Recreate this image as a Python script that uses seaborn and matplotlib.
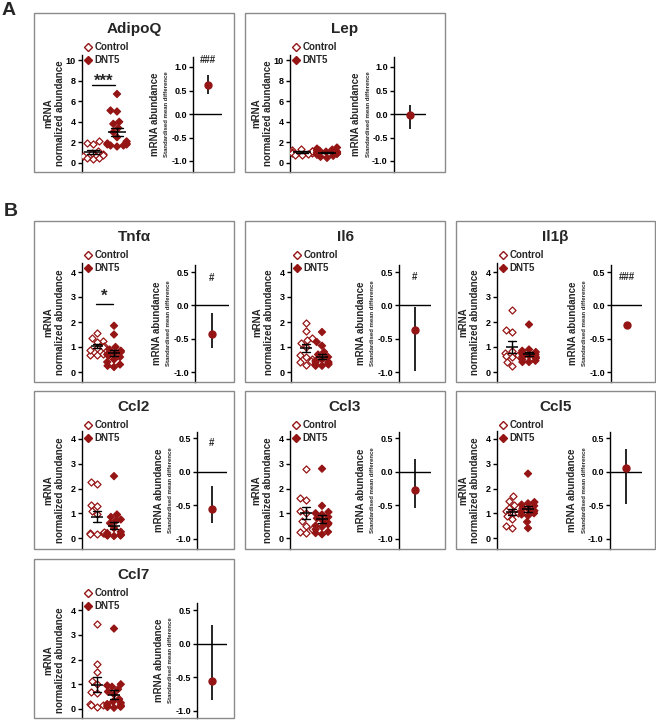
import warnings
warnings.filterwarnings('ignore')
import numpy as np
import pandas as pd
import matplotlib
matplotlib.use('Agg')
import matplotlib.pyplot as plt
from matplotlib.lines import Line2D
from matplotlib.patches import Rectangle
import seaborn as sns

# ---------------- data ----------------
groups = ['Control', 'DNT5']
genes = ['AdipoQ', 'Lep', 'Tnfα', 'Il6', 'Il1β', 'Ccl2', 'Ccl3', 'Ccl5', 'Ccl7']

adipoq_control = [2.1, 1.9, 1.8, 1.2, 1.0, 0.9, 0.7, 0.5, 0.4, 0.5, 0.8]
adipoq_dnt5 = [6.7, 5.1, 5.0, 4.0, 3.8, 3.4, 3.0, 2.5, 2.1, 1.9, 1.8, 1.8, 1.7, 1.7, 1.6, 1.9]
lep_control = [1.4, 1.3, 1.2, 1.1, 1.0, 0.9, 0.8, 1.0, 1.2, 0.8]
lep_dnt5 = [1.5, 1.4, 1.3, 1.2, 1.1, 1.0, 1.0, 0.9, 0.9, 0.8, 0.7, 0.6, 0.5, 1.1, 1.2, 1.0]
tnfa_control = [1.55, 1.35, 1.25, 1.2, 1.05, 1.0, 0.95, 0.72, 0.7, 0.68, 0.9]
tnfa_dnt5 = [1.85, 1.5, 1.0, 0.9, 0.85, 0.8, 0.75, 0.7, 0.65, 0.6, 0.5, 0.4, 0.3, 0.25, 0.2]
il6_control = [1.97, 1.64, 1.38, 1.27, 1.17, 1.0, 0.67, 0.54, 0.4, 0.3, 0.6, 0.45]
il6_dnt5 = [1.6, 1.2, 1.05, 0.8, 0.7, 0.6, 0.5, 0.45, 0.4, 0.35, 0.3, 0.3, 0.25, 0.25, 0.4]
il1b_control = [2.5, 1.7, 1.62, 0.85, 0.75, 0.65, 0.6, 0.4, 0.25, 0.7]
il1b_dnt5 = [1.9, 0.9, 0.85, 0.8, 0.75, 0.7, 0.7, 0.65, 0.6, 0.55, 0.5, 0.45, 0.4, 0.4, 0.6]
ccl2_control = [2.25, 2.2, 1.35, 1.3, 1.1, 0.95, 0.22, 0.2, 0.18, 0.2, 0.25, 0.15]
ccl2_dnt5 = [2.5, 0.95, 0.85, 0.75, 0.7, 0.6, 0.4, 0.25, 0.2, 0.15, 0.12, 0.1, 0.08, 0.1, 0.15, 0.12]
ccl3_control = [2.8, 1.6, 1.55, 1.1, 1.0, 0.7, 0.5, 0.35, 0.25, 0.22]
ccl3_dnt5 = [2.8, 1.3, 1.05, 1.0, 0.95, 0.85, 0.8, 0.7, 0.6, 0.55, 0.5, 0.45, 0.35, 0.25, 0.2, 0.15]
ccl5_control = [1.7, 1.5, 1.35, 1.2, 1.1, 1.0, 0.9, 0.75, 0.5, 0.4, 1.0]
ccl5_dnt5 = [2.6, 1.45, 1.4, 1.35, 1.3, 1.2, 1.15, 1.1, 1.05, 1.0, 0.95, 0.9, 0.65, 0.4]
ccl7_control = [3.45, 1.8, 1.5, 1.15, 1.0, 0.7, 0.65, 0.2, 0.15, 0.1, 0.15]
ccl7_dnt5 = [3.25, 1.0, 0.95, 0.9, 0.8, 0.7, 0.6, 0.4, 0.3, 0.25, 0.2, 0.15, 0.12, 0.1, 0.08, 0.05, 0.1]

control_values = [adipoq_control, lep_control, tnfa_control, il6_control, il1b_control,
                  ccl2_control, ccl3_control, ccl5_control, ccl7_control]
dnt5_values = [adipoq_dnt5, lep_dnt5, tnfa_dnt5, il6_dnt5, il1b_dnt5,
               ccl2_dnt5, ccl3_dnt5, ccl5_dnt5, ccl7_dnt5]

# standardised mean difference with interval
effect = [0.62, -0.02, -0.43, -0.37, -0.30, -0.56, -0.27, 0.05, -0.55]
ci_low = [0.43, -0.32, -0.64, -0.99, -0.33, -0.76, -0.54, -0.48, -0.84]
ci_high = [0.82, 0.19, -0.11, -0.03, -0.27, -0.22, 0.19, 0.33, 0.28]

# t-test stars: gene -> (label, bar value, text value)
stars = {'AdipoQ': ('***', 7.6, 7.9), 'Tnfα': ('*', 2.72, 3.04)}
# effect-size significance: gene -> (label, value)
hashes = {'AdipoQ': ('###', 1.15), 'Tnfα': ('#', 0.41), 'Il6': ('#', 0.42),
          'Il1β': ('###', 0.42), 'Ccl2': ('#', 0.43)}

yticks_a = [0, 2, 4, 6, 8, 10]
yticks_b = [0, 1, 2, 3, 4]
eticks_a = [-1.0, -0.5, 0.0, 0.5, 1.0]
eticks_b = [-1.0, -0.5, 0.0, 0.5]

# ---------------- layout (pixels) ----------------
W, H = 656, 720
RED = '#951515'
BOX = '#8a8a8a'

rows = {
    'A': dict(b=(13, 172), st=55, sa=(10, 60), sb=(0, 163), et=57, ea=(1.0, 67), eb=(-1.0, 161)),
    'B1': dict(b=(221, 382), st=263, sa=(4, 272), sb=(0, 372), et=265, ea=(0.5, 272), eb=(-1.0, 372)),
    'B2': dict(b=(391, 549), st=431, sa=(4, 439), sb=(0, 538), et=432, ea=(0.5, 438), eb=(-1.0, 539)),
    'B3': dict(b=(559, 718), st=602, sa=(4, 610), sb=(0, 709), et=603, ea=(0.5, 610), eb=(-1.0, 711)),
}
cols = {
    'AdipoQ': ('A', 34, 234, 82, 93, 117, 193, 222),
    'Lep': ('A', 245, 445, 290, 302, 327, 394, 426),
    'Tnfα': ('B1', 34, 234, 82, 97, 114, 195, 229),
    'Il6': ('B1', 245, 445, 291, 306, 322, 399, 431),
    'Il1β': ('B1', 456, 655, 497, 512, 529, 611, 642),
    'Ccl2': ('B2', 34, 234, 82, 97, 114, 197, 227),
    'Ccl3': ('B2', 245, 445, 290, 306, 322, 399, 431),
    'Ccl5': ('B2', 456, 655, 497, 512, 528, 610, 642),
    'Ccl7': ('B3', 34, 234, 82, 97, 114, 197, 227),
}

sns.set_style('ticks')
plt.rcParams['font.family'] = ['Liberation Sans', 'DejaVu Sans']
plt.rcParams['font.weight'] = 'bold'
plt.rcParams['axes.unicode_minus'] = False

fig = plt.figure(figsize=(W / 100, H / 100), dpi=100)


def fx(x):
    return x / W


def fy(y):
    return 1 - y / H


def lim(top, bottom, a, b):
    va, pa = a
    vb, pb = b
    scale = (va - vb) / (pb - pa)
    return (va - (bottom - pa) * scale, va - (top - pa) * scale)


def style_axis(ax):
    for s in ['top', 'right', 'bottom']:
        ax.spines[s].set_visible(False)
    ax.spines['left'].set_linewidth(1.0)
    ax.spines['left'].set_color('black')
    ax.tick_params(axis='y', length=3, width=1, pad=1.5, labelsize=6.5, colors='black')
    ax.set_xticks([])
    ax.set_xlabel('')
    ax.set_ylabel('')
    ax.patch.set_visible(False)
    for t in ax.get_yticklabels():
        t.set_fontweight('bold')


for gi, gene in enumerate(genes):
    rk, x0, x1, sp, cpx, dpx, esp, eend = cols[gene]
    r = rows[rk]
    y0, y1 = r['b']

    fig.add_artist(Rectangle((fx(x0), fy(y1)), (x1 - x0) / W, (y1 - y0) / H,
                             transform=fig.transFigure, fill=False,
                             edgecolor=BOX, linewidth=1.0, zorder=10))
    fig.text(fx((x0 + x1) / 2), fy(y0 + 16), gene, ha='center', va='center',
             fontsize=11, fontweight='bold')

    # ---- scatter axes ----
    unit = dpx - cpx
    xl = (sp - cpx) / unit
    xr = 1.7
    ax = fig.add_axes([fx(sp), fy(y1), (xr - xl) * unit / W, (y1 - r['st']) / H])
    df = pd.DataFrame({
        'group': ['Control'] * len(control_values[gi]) + ['DNT5'] * len(dnt5_values[gi]),
        'value': list(control_values[gi]) + list(dnt5_values[gi]),
    })
    sns.swarmplot(data=df, x='group', y='value', hue='group', order=groups,
                  hue_order=groups, palette=[RED, RED], marker='D', size=3.6,
                  linewidth=0.9, edgecolor=RED, legend=False, ax=ax)
    for coll in ax.collections:
        offs = coll.get_offsets()
        if len(offs) and np.mean(offs[:, 0]) < 0.5:
            coll.set_facecolor('white')
            coll.set_edgecolor(RED)
    ms = 0.72 * unit / 1.389
    sns.pointplot(data=df, x='group', y='value', order=groups, errorbar='se',
                  color='black', marker='_', markersize=ms, markeredgewidth=1.1,
                  linestyle='none', linewidth=1.0, capsize=0.5,
                  err_kws={'linewidth': 1.0}, ax=ax, zorder=5)
    ax.set_xlim(xl, xr)
    ax.set_ylim(*lim(r['st'], y1, r['sa'], r['sb']))
    ax.set_yticks(yticks_a if rk == 'A' else yticks_b)
    style_axis(ax)

    if gene in stars:
        lab, yb, yt = stars[gene]
        ax.plot([-0.05, 0.93], [yb, yb], color='black', lw=1.0)
        ax.text(0.44, yt, lab, ha='center', va='center', fontsize=12, fontweight='bold')

    handles = [Line2D([], [], marker='D', linestyle='none', markersize=4.0,
                      markerfacecolor='white', markeredgecolor=RED, markeredgewidth=1.0),
               Line2D([], [], marker='D', linestyle='none', markersize=4.0,
                      markerfacecolor=RED, markeredgecolor=RED, markeredgewidth=1.0)]
    ax.legend(handles, groups, loc='upper left', bbox_to_anchor=(fx(sp + 2.5), fy(y0 + 29)),
              bbox_transform=fig.transFigure, frameon=False, borderpad=0, borderaxespad=0,
              handlelength=0.75, handletextpad=0.25, labelspacing=0.3,
              prop={'size': 7.0, 'weight': 'bold'})

    cy = (r['st'] + y1) / 2
    fig.text(fx(sp - 34), fy(cy), 'mRNA', rotation=90, ha='center', va='center',
             fontsize=7.0, fontweight='bold')
    fig.text(fx(sp - 22), fy(cy), 'normalized abundance', rotation=90, ha='center',
             va='center', fontsize=7.0, fontweight='bold')

    # ---- effect axes ----
    ax2 = fig.add_axes([fx(esp), fy(y1), (eend - esp) / W, (y1 - r['et']) / H])
    ax2.axhline(0, color='black', lw=1.0, zorder=1)
    ax2.errorbar([0], [effect[gi]], yerr=[[effect[gi] - ci_low[gi]], [ci_high[gi] - effect[gi]]],
                 fmt='o', color=RED, markersize=5.0, ecolor='black', elinewidth=1.2,
                 capsize=0, zorder=3)
    ax2.set_xlim(-1, 1)
    ax2.set_ylim(*lim(r['et'], y1, r['ea'], r['eb']))
    ax2.set_yticks(eticks_a if rk == 'A' else eticks_b)
    ax2.yaxis.set_major_formatter(matplotlib.ticker.FormatStrFormatter('%.1f'))
    style_axis(ax2)
    if gene in hashes:
        lab, yv = hashes[gene]
        ax2.text(0, yv, lab, ha='center', va='center', fontsize=7, fontweight='bold')

    ecy = (r['et'] + y1) / 2
    fig.text(fx(esp - 38), fy(ecy), 'mRNA abundance', rotation=90, ha='center',
             va='center', fontsize=7.0, fontweight='bold')
    fig.text(fx(esp - 26), fy(ecy), 'Standardised mean difference', rotation=90,
             ha='center', va='center', fontsize=4.3, fontweight='bold')

fig.text(fx(2), fy(2), 'A', ha='left', va='top', fontsize=14, fontweight='bold')
fig.text(fx(4), fy(203), 'B', ha='left', va='top', fontsize=14, fontweight='bold')

fig.savefig('out.png', dpi=100)
